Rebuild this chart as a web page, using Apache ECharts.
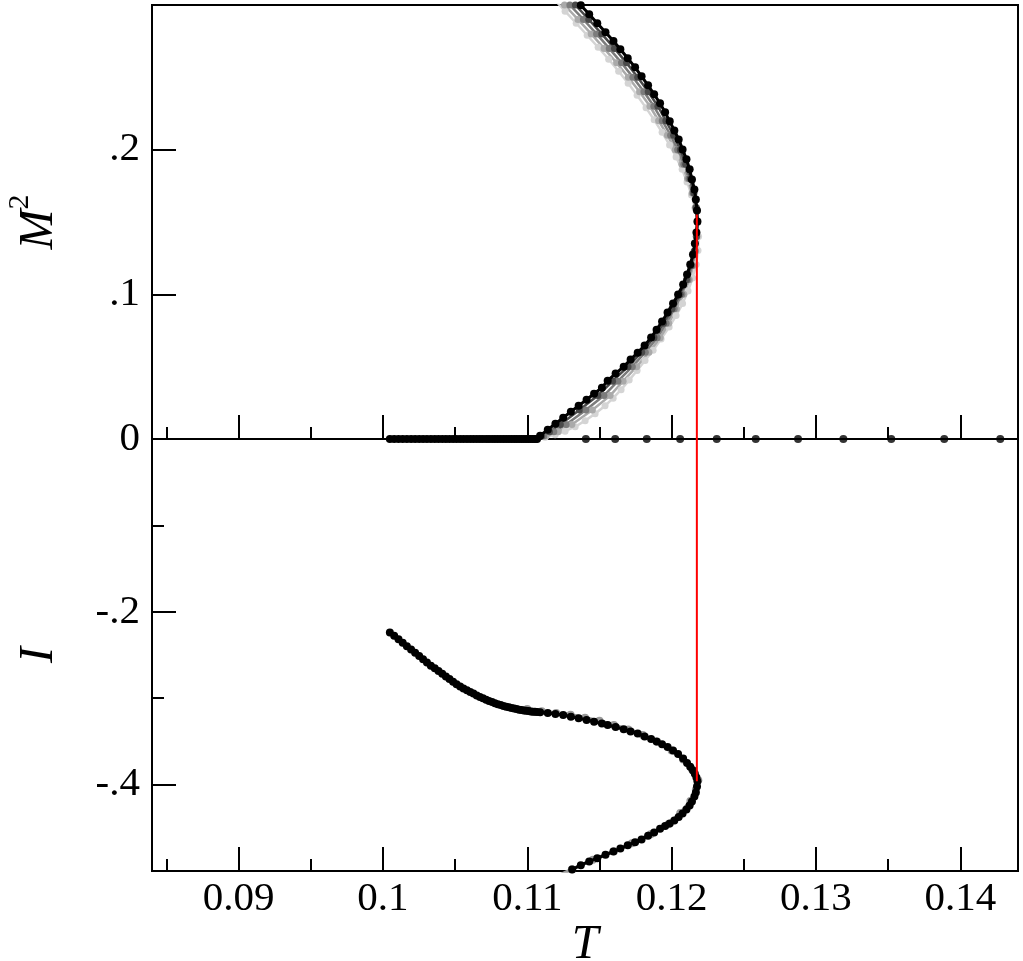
<!DOCTYPE html>
<html>
<head>
<meta charset="utf-8">
<script src="https://cdn.jsdelivr.net/npm/echarts@6/dist/echarts.min.js"></script>
<style>
html,body{margin:0;padding:0;background:#fff;}
#chart{width:1023px;height:961px;}
</style>
</head>
<body>
<div id="chart"></div>
<script>
// ---------- tick / label values ----------
const T_major = [0.09, 0.10, 0.11, 0.12, 0.13, 0.14];
const T_minor = [0.085, 0.095, 0.105, 0.115, 0.125, 0.135];
const T_labels = ['0.09', '0.1', '0.11', '0.12', '0.13', '0.14'];
const M2_ticks = [0.1, 0.2];
const M2_labelVals = [0, 0.1, 0.2];
const M2_labels = ['0', '.1', '.2'];
const I_major = [-0.4, -0.2];
const I_minor = [-0.3, -0.1];
const I_labels = ['-.4', '-.2'];

// ---------- black (largest) data set: T, M^2, I ----------
const T_black = [
  0.10048, 0.10078, 0.10108, 0.10137, 0.10166, 0.10195, 0.10223, 0.10251, 0.10278, 0.10305,
  0.10332, 0.10359, 0.10385, 0.10411, 0.10436, 0.10461, 0.10486, 0.10510, 0.10535, 0.10558,
  0.10582, 0.10605, 0.10627, 0.10650, 0.10672, 0.10693, 0.10715, 0.10735, 0.10756, 0.10776,
  0.10796, 0.10816, 0.10835, 0.10854, 0.10873, 0.10891, 0.10909, 0.10926, 0.10943, 0.10960,
  0.10976, 0.10992, 0.11008, 0.11024, 0.11039, 0.11053, 0.11068,
  0.11089, 0.11142, 0.11195, 0.11249, 0.11302, 0.11356, 0.11411, 0.11463, 0.11517, 0.11557,
  0.11612, 0.11668, 0.11716, 0.11765, 0.11813, 0.11858, 0.11896, 0.11934, 0.11972, 0.12010,
  0.12045, 0.12080, 0.12107, 0.12129, 0.12148, 0.12161, 0.12172, 0.12179,
  0.12176, 0.12168, 0.12158, 0.12141, 0.12125, 0.12103, 0.12076, 0.12049, 0.12019, 0.11987,
  0.11955, 0.11920, 0.11879, 0.11837, 0.11792, 0.11747, 0.11696, 0.11645, 0.11597, 0.11542,
  0.11485, 0.11429, 0.11371, 0.11311
];
const M2_black = [
  0,0,0,0,0,0,0,0,0,0, 0,0,0,0,0,0,0,0,0,0, 0,0,0,0,0,0,0,0,0,0,
  0,0,0,0,0,0,0,0,0,0, 0,0,0,0,0,0,0,
  0.0023, 0.0064, 0.0106, 0.0147, 0.0189, 0.0230, 0.0272, 0.0313, 0.0355, 0.0403,
  0.0452, 0.0500, 0.0549, 0.0597, 0.0646, 0.0701, 0.0756, 0.0812, 0.0874, 0.0936,
  0.0999, 0.1068, 0.1137, 0.1206, 0.1275, 0.1351, 0.1428, 0.1504,
  0.1580, 0.1656, 0.1725, 0.1794, 0.1864, 0.1933, 0.2002, 0.2071, 0.2133, 0.2196,
  0.2258, 0.2320, 0.2383, 0.2445, 0.2507, 0.2569, 0.2632, 0.2694, 0.2751, 0.2812,
  0.2874, 0.2936, 0.2998, 0.3060
];
const I_black = [
  -0.2240, -0.2277, -0.2318, -0.2357, -0.2398, -0.2437, -0.2474, -0.2512, -0.2550, -0.2588,
  -0.2624, -0.2654, -0.2684, -0.2717, -0.2748, -0.2779, -0.2809, -0.2838, -0.2865, -0.2888,
  -0.2908, -0.2927, -0.2947, -0.2968, -0.2985, -0.3001, -0.3018, -0.3032, -0.3045, -0.3058,
  -0.3069, -0.3080, -0.3089, -0.3098, -0.3105, -0.3112, -0.3119, -0.3126, -0.3133, -0.3138,
  -0.3142, -0.3146, -0.3149, -0.3153, -0.3156, -0.3158, -0.3161,
  -0.3164, -0.3172, -0.3183, -0.3195, -0.3214, -0.3231, -0.3251, -0.3272, -0.3294, -0.3310,
  -0.3333, -0.3360, -0.3384, -0.3409, -0.3442, -0.3473, -0.3502, -0.3533, -0.3565, -0.3605,
  -0.3647, -0.3699, -0.3751, -0.3794, -0.3836, -0.3875, -0.3917, -0.3962,
  -0.4023, -0.4092, -0.4139, -0.4197, -0.4243, -0.4289, -0.4335, -0.4376, -0.4416, -0.4451,
  -0.4480, -0.4512, -0.4553, -0.4593, -0.4634, -0.4666, -0.4703, -0.4740, -0.4775, -0.4813,
  -0.4852, -0.4890, -0.4933, -0.4983
];

// ---------- sparse points on M^2 = 0 (high T branch) ----------
const T_zeroBranch = [0.11406, 0.11609, 0.11828, 0.12059, 0.12313, 0.12583, 0.12876, 0.13190, 0.13522, 0.13889, 0.14277];
const M2_zeroBranch = [0, 0, 0, 0, 0, 0, 0, 0, 0, 0, 0];

// ---------- lightest (smallest) data set, M^2 ----------
const T_light = [
  0.11050, 0.11124, 0.11193, 0.11262, 0.11332, 0.11401, 0.11470, 0.11539, 0.11595, 0.11650,
  0.11706, 0.11761, 0.11816, 0.11872, 0.11927, 0.11983, 0.12031, 0.12076, 0.12114, 0.12145,
  0.12170, 0.12183, 0.12187, 0.12180, 0.12163, 0.12138, 0.12107, 0.12073, 0.12031, 0.11986,
  0.11934, 0.11879, 0.11823, 0.11761, 0.11699, 0.11633, 0.11564, 0.11491, 0.11415, 0.11339,
  0.11262, 0.11200, 0.11138
];
const M2_light = [
  0, 0.0012, 0.0030, 0.0054, 0.0085, 0.0127, 0.0175, 0.0230, 0.0282, 0.0341,
  0.0407, 0.0473, 0.0542, 0.0614, 0.0691, 0.0774, 0.0853, 0.0936, 0.1023, 0.1113,
  0.1206, 0.1303, 0.1400, 0.1497, 0.1594, 0.1687, 0.1777, 0.1864, 0.1950, 0.2033,
  0.2120, 0.2206, 0.2289, 0.2376, 0.2459, 0.2542, 0.2625, 0.2708, 0.2791, 0.2874,
  0.2957, 0.3026, 0.3095
];

// ---------- intermediate data sets (M^2 levels) ----------
const M2_levels = [0, 0.002, 0.005, 0.01, 0.02, 0.03, 0.04, 0.05, 0.06, 0.07, 0.08, 0.09, 0.10,
  0.11, 0.12, 0.13, 0.14, 0.15, 0.16, 0.17, 0.18, 0.19, 0.20, 0.21, 0.22, 0.23, 0.24, 0.25,
  0.26, 0.27, 0.28, 0.29, 0.30, 0.31];
const T_gray1 = [0.11060, 0.11100, 0.11154, 0.11229, 0.11361, 0.11489, 0.11591, 0.11698, 0.11793, 0.11878,
  0.11944, 0.12003, 0.12059, 0.12103, 0.12135, 0.12157, 0.12171, 0.12179, 0.12171, 0.12155, 0.12130,
  0.12098, 0.12060, 0.12014, 0.11960, 0.11905, 0.11838, 0.11765, 0.11688, 0.11604, 0.11516, 0.11426,
  0.11333, 0.11233];
const T_gray2 = [0.11060, 0.11115, 0.11184, 0.11269, 0.11406, 0.11531, 0.11628, 0.11728, 0.11818, 0.11900,
  0.11962, 0.12018, 0.12071, 0.12113, 0.12142, 0.12162, 0.12173, 0.12179, 0.12168, 0.12149, 0.12120,
  0.12085, 0.12042, 0.11993, 0.11935, 0.11877, 0.11808, 0.11732, 0.11653, 0.11568, 0.11480, 0.11389,
  0.11295, 0.11195];
const T_gray3 = [0.11060, 0.11130, 0.11214, 0.11309, 0.11451, 0.11574, 0.11664, 0.11758, 0.11843, 0.11921,
  0.11980, 0.12033, 0.12084, 0.12123, 0.12150, 0.12167, 0.12176, 0.12179, 0.12164, 0.12142, 0.12110,
  0.12071, 0.12025, 0.11971, 0.11910, 0.11850, 0.11778, 0.11700, 0.11619, 0.11532, 0.11443, 0.11351,
  0.11258, 0.11158];

// ---------- gray halo in I panel ----------
const T_grayI = [0.1100, 0.1110, 0.1120, 0.1130, 0.1140, 0.1150, 0.1160, 0.1170, 0.1180, 0.1190,
  0.1200, 0.1208, 0.1214, 0.12185, 0.12168, 0.12130, 0.12060, 0.11977, 0.11855, 0.11725, 0.11600,
  0.11455, 0.11310, 0.11210];
const I_grayI = [-0.3125, -0.3150, -0.3170, -0.3192, -0.3225, -0.3262, -0.3310, -0.3362, -0.3425, -0.3505,
  -0.3605, -0.3710, -0.3820, -0.3950, -0.4060, -0.4190, -0.4330, -0.4460, -0.4575, -0.4680, -0.4770,
  -0.4870, -0.4980, -0.5060];

// ---------- red transition line ----------
const T_red = [0.12175, 0.12175];
const M2_red = [0.1552, 0];
const I_red = [0, -0.396];

// ---------- build ----------
const FONT = "'Liberation Serif', 'Times New Roman', serif";
const zip = (a, b) => a.map((v, i) => [v, b[i]]);
const labelFrom = (vals, labels) => (v) => {
  let best = 0, d = Infinity;
  vals.forEach((x, i) => { const dd = Math.abs(x - v); if (dd < d) { d = dd; best = i; } });
  return labels[best];
};

const X_MIN = 0.084, X_MAX = 0.144;
function xAxisDef(grid, ticks, len, withLabels) {
  return {
    type: 'value', gridIndex: grid, min: X_MIN, max: X_MAX, position: 'bottom',
    axisLine: { show: false, onZero: false },
    axisTick: { show: true, inside: true, length: len, customValues: ticks,
      lineStyle: { color: '#000', width: 2 } },
    axisLabel: withLabels ? {
      show: true, customValues: T_major, formatter: labelFrom(T_major, T_labels),
      fontFamily: FONT, fontSize: 41, color: '#000', margin: 8
    } : { show: false },
    splitLine: { show: false },
    name: withLabels && len === 24 ? 'T' : '',
    nameLocation: 'middle', nameGap: 46,
    nameTextStyle: { fontFamily: FONT, fontStyle: 'italic', fontSize: 48, color: '#000' }
  };
}

const lineSeries = (name, data, color, xi, yi, sym, w, z) => ({
  name, type: 'line', xAxisIndex: xi, yAxisIndex: yi, data,
  symbol: 'circle', symbolSize: sym, showSymbol: true, clip: true,
  itemStyle: { color }, lineStyle: { color, width: w }, z: z || 2,
  animation: false, silent: true
});

const option = {
  animation: false,
  backgroundColor: '#fff',
  grid: [
    { left: 152, right: 5, top: 5, height: 434, containLabel: false, outerBoundsMode: 'none',
      show: true, borderColor: '#000', borderWidth: 2, backgroundColor: 'transparent' },
    { left: 152, right: 5, top: 439, height: 432, containLabel: false, outerBoundsMode: 'none',
      show: true, borderColor: '#000', borderWidth: 2, backgroundColor: 'transparent' }
  ],
  xAxis: [
    xAxisDef(0, T_major, 24, false),
    xAxisDef(0, T_minor, 12, false),
    xAxisDef(1, T_major, 24, true),
    xAxisDef(1, T_minor, 12, false)
  ],
  yAxis: [
    {
      type: 'value', gridIndex: 0, min: 0, max: 0.3, position: 'left',
      axisLine: { show: false, onZero: false },
      axisTick: { show: true, inside: true, length: 24, customValues: M2_ticks, lineStyle: { color: '#000', width: 2 } },
      axisLabel: { show: true, customValues: M2_labelVals, formatter: labelFrom(M2_labelVals, M2_labels),
        fontFamily: FONT, fontSize: 41, color: '#000', margin: 12 },
      splitLine: { show: false },
      name: '{m|M}{s|2}', nameLocation: 'middle', nameGap: 89,
      nameTextStyle: { rich: {
        m: { fontFamily: FONT, fontStyle: 'italic', fontSize: 48, color: '#000', padding: [10, 0, 0, 0] },
        s: { fontFamily: FONT, fontSize: 30, color: '#000', verticalAlign: 'top' }
      } }
    },
    {
      type: 'value', gridIndex: 1, min: -0.5, max: 0, position: 'left',
      axisLine: { show: false, onZero: false },
      axisTick: { show: true, inside: true, length: 24, customValues: I_major, lineStyle: { color: '#000', width: 2 } },
      axisLabel: { show: true, customValues: I_major, formatter: labelFrom(I_major, I_labels),
        fontFamily: FONT, fontSize: 41, color: '#000', margin: 12 },
      splitLine: { show: false },
      name: 'I', nameLocation: 'middle', nameGap: 89,
      nameTextStyle: { fontFamily: FONT, fontStyle: 'italic', fontSize: 48, color: '#000' }
    },
    {
      type: 'value', gridIndex: 1, min: -0.5, max: 0, position: 'left',
      axisLine: { show: false, onZero: false },
      axisTick: { show: true, inside: true, length: 12, customValues: I_minor, lineStyle: { color: '#000', width: 2 } },
      axisLabel: { show: false },
      splitLine: { show: false }
    }
  ],
  series: [
    lineSeries('L1', zip(T_light, M2_light), '#d4d4d4', 0, 0, 7, 2.5, 2),
    lineSeries('L2', zip(T_gray3, M2_levels), '#aaaaaa', 0, 0, 7, 2.5, 2),
    lineSeries('L3', zip(T_gray2, M2_levels), '#7c7c7c', 0, 0, 7, 2.5, 2),
    lineSeries('L4', zip(T_gray1, M2_levels), '#4a4a4a', 0, 0, 7, 2.5, 2),
    lineSeries('L5', zip(T_black, M2_black), '#000000', 0, 0, 8, 3, 3),
    { type: 'scatter', xAxisIndex: 0, yAxisIndex: 0, data: zip(T_zeroBranch, M2_zeroBranch),
      symbol: 'circle', symbolSize: 8, itemStyle: { color: '#000' }, z: 3, silent: true, animation: false },
    lineSeries('IG', zip(T_grayI, I_grayI), '#9a9a9a', 2, 1, 8, 3.5, 2),
    lineSeries('IB', zip(T_black, I_black), '#000000', 2, 1, 8, 3, 3),
    { type: 'line', xAxisIndex: 0, yAxisIndex: 0, data: zip(T_red, M2_red), symbol: 'none',
      lineStyle: { color: '#ff0000', width: 2 }, z: 5, silent: true, animation: false },
    { type: 'line', xAxisIndex: 2, yAxisIndex: 1, data: zip(T_red, I_red), symbol: 'none',
      lineStyle: { color: '#ff0000', width: 2 }, z: 5, silent: true, animation: false }
  ]
};

const chart = echarts.init(document.getElementById('chart'), null, { renderer: 'canvas' });
chart.setOption(option);
</script>
</body>
</html>
